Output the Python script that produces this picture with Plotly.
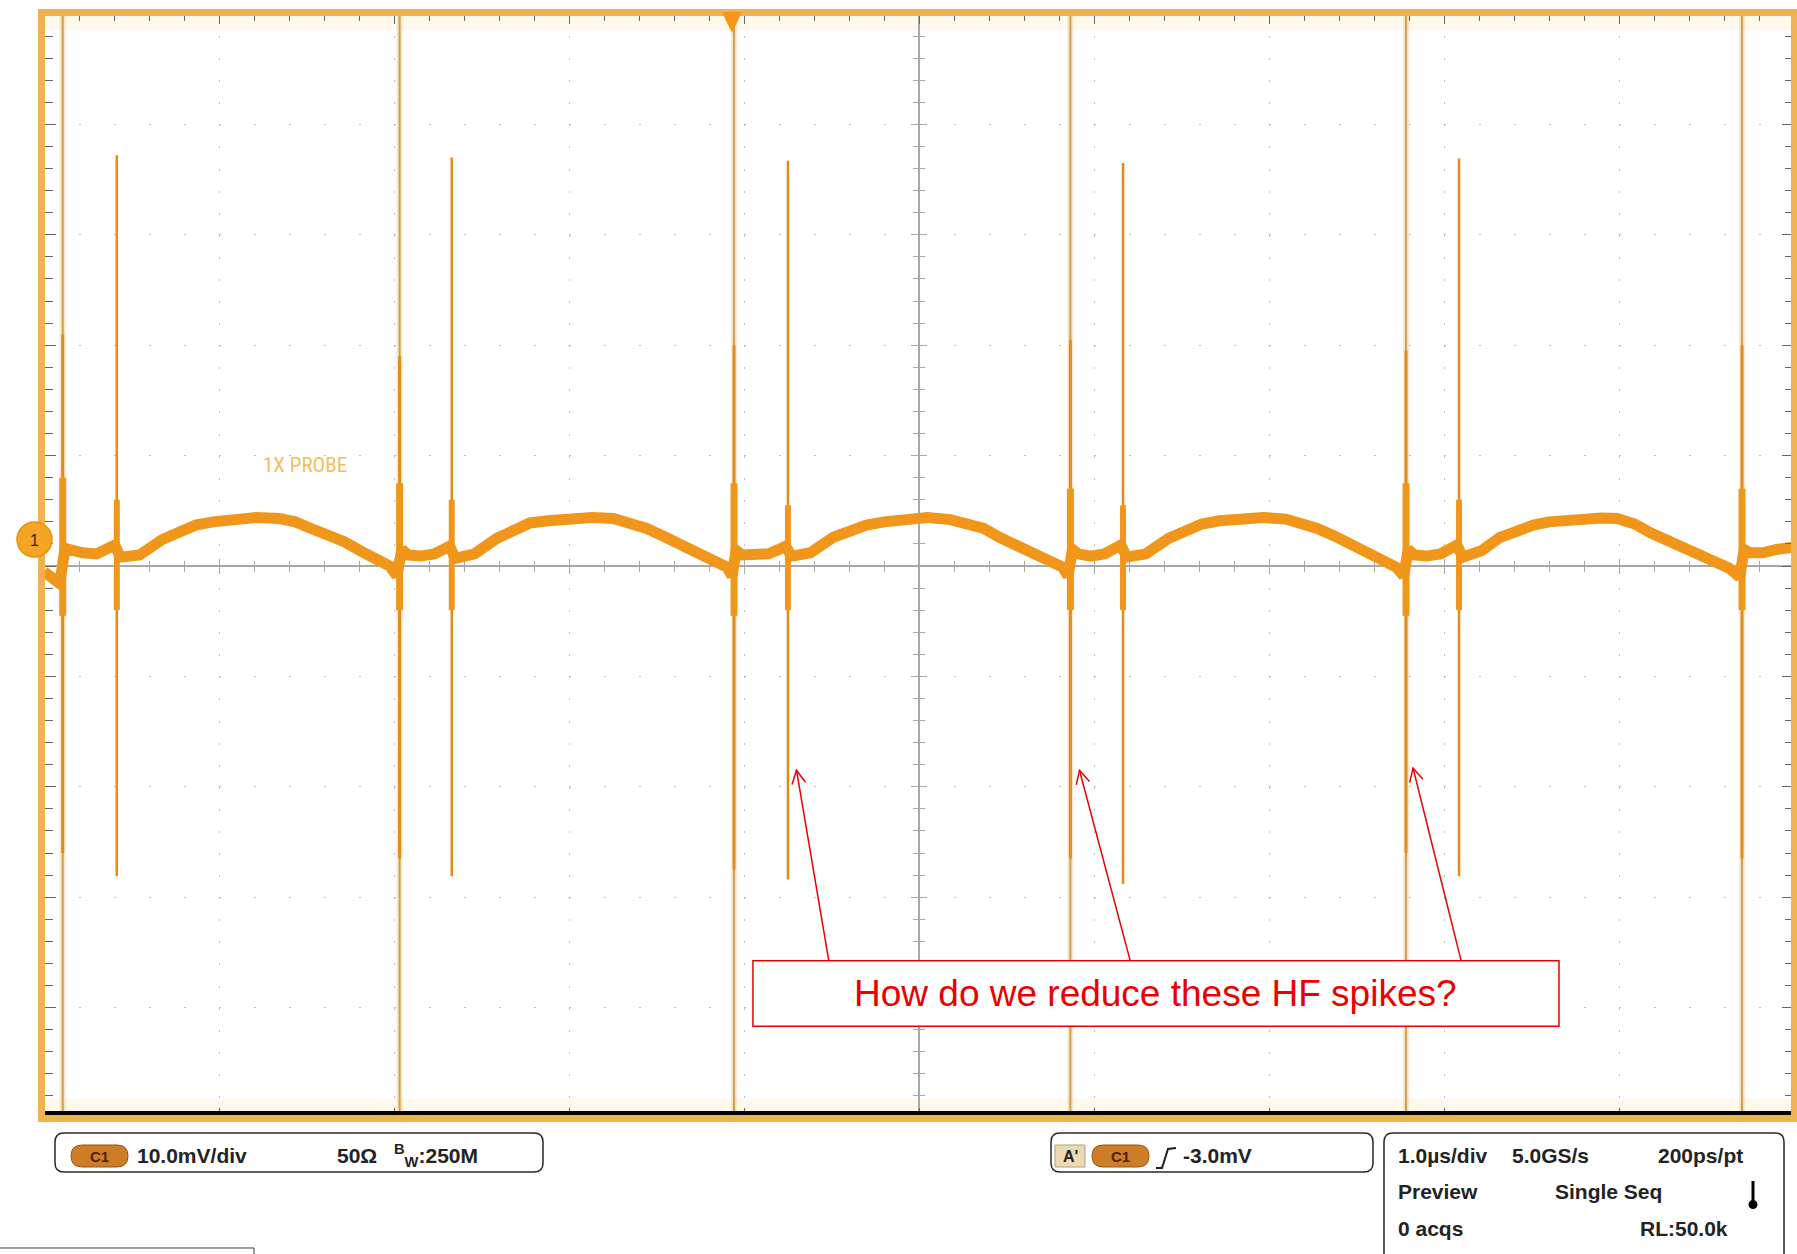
import math
import plotly.graph_objects as go

# ---------------- data ----------------
# time in microseconds (0 = screen centre), amplitude in mV (0 = screen centre)
tall_spike_t = [-4.893, -2.968, -1.057, 0.865, 2.783, 4.703]
tall_spike_hi = [58, 58, 58, 58, 58, 58]          # runs off the top of the screen
tall_spike_lo = [-58, -58, -58, -58, -58, -58]    # runs off the bottom of the screen
tall_core_hi = [21.0, 19.0, 20.0, 20.5, 19.5, 20.0]
tall_core_lo = [-26.0, -26.5, -27.5, -26.5, -26.0, -26.5]
tall_ring_hi = [8.0, 7.5, 7.5, 7.0, 7.5, 7.0]
tall_ring_lo = [-4.5, -4.0, -4.5, -4.0, -4.5, -4.0]

short_spike_t = [-4.584, -2.670, -0.749, 1.166, 3.086]
short_spike_hi = [37.2, 37.0, 36.7, 36.5, 36.9]
short_spike_lo = [-28.1, -28.1, -28.4, -28.8, -28.1]
short_ring_hi = [6.0, 6.0, 5.5, 5.5, 6.0]
short_ring_lo = [-4.0, -4.0, -4.0, -4.0, -4.0]

ripple_t = [
    -5.000, -4.950, -4.910,
    -4.880, -4.840, -4.780, -4.700, -4.630, -4.595,
    -4.564, -4.454, -4.324, -4.224, -4.134, -4.034, -3.884, -3.784, -3.654, -3.564,
    -3.474, -3.374, -3.284, -3.184, -3.094, -3.024, -2.984,
    -2.955, -2.920, -2.850, -2.770, -2.710, -2.682,
    -2.650, -2.540, -2.413, -2.310, -2.223, -2.120, -1.970, -1.870, -1.747, -1.650,
    -1.556, -1.460, -1.366, -1.270, -1.177, -1.099, -1.068,
    -1.045, -1.010, -0.940, -0.860, -0.800, -0.762,
    -0.729, -0.620, -0.490, -0.390, -0.300, -0.200, -0.050, 0.050, 0.180, 0.270,
    0.370, 0.460, 0.550, 0.650, 0.740, 0.820, 0.852,
    0.877, 0.910, 0.980, 1.060, 1.120, 1.154,
    1.186, 1.296, 1.426, 1.526, 1.616, 1.716, 1.866, 1.966, 2.096, 2.186,
    2.276, 2.376, 2.466, 2.566, 2.656, 2.726, 2.770,
    2.795, 2.830, 2.900, 2.980, 3.040, 3.074,
    3.106, 3.216, 3.320, 3.420, 3.510, 3.600, 3.700, 3.800, 3.900, 3.990,
    4.090, 4.180, 4.280, 4.370, 4.470, 4.560, 4.630, 4.690,
    4.715, 4.750, 4.820, 4.900, 4.960, 5.000,
]
ripple_mv = [
    -0.5, -1.0, -1.6,
    1.6, 1.4, 1.2, 1.1, 1.5, 1.9,
    0.8, 1.0, 2.4, 3.1, 3.7, 4.0, 4.35, 4.4, 4.3, 4.0,
    3.4, 2.8, 2.2, 1.3, 0.6, 0.0, -0.9,
    1.5, 1.0, 0.9, 1.1, 1.4, 1.8,
    0.7, 1.1, 2.5, 3.2, 3.9, 4.1, 4.4, 4.4, 4.3, 3.9,
    3.4, 2.7, 1.9, 1.1, 0.5, -0.1, -0.9,
    1.4, 1.0, 1.0, 1.1, 1.5, 1.8,
    0.9, 1.2, 2.6, 3.3, 3.7, 4.0, 4.35, 4.4, 4.2, 3.9,
    3.4, 2.6, 1.9, 1.1, 0.5, -0.1, -0.9,
    1.5, 1.1, 0.9, 1.1, 1.5, 1.9,
    0.8, 1.1, 2.5, 3.2, 3.8, 4.1, 4.4, 4.4, 4.25, 3.9,
    3.4, 2.7, 2.0, 1.1, 0.5, -0.1, -0.9,
    1.5, 1.0, 0.9, 1.1, 1.5, 1.9,
    0.8, 1.4, 2.6, 3.3, 3.7, 4.0, 4.2, 4.35, 4.35, 4.3,
    3.8, 3.0, 2.3, 1.7, 1.0, 0.5, -0.2, -1.0,
    1.5, 1.2, 1.2, 1.5, 1.6, 1.7,
]

trigger_t = -1.069          # trigger position marker at top
ground_mv = 2.4             # channel-1 ground marker level

note_text = "How do we reduce these HF spikes?"
note_box_t = [-0.949, 3.657]
note_box_mv = [-41.7, -35.75]
note_center = (1.351, -38.7)
arrow_head_t = [-0.700, 0.917, 2.823]
arrow_head_mv = [-18.5, -18.5, -18.3]
arrow_tail_t = [-0.516, 1.206, 3.097]
arrow_tail_mv = [-35.7, -35.7, -35.7]

# ---------------- page geometry ----------------
W, H = 1797, 1254
L, R, T, B = 44, 3, 14, 136
PW, PH = W - L - R, H - T - B
xr, yr = [-5, 5], [-50, 50]
SX = PW / (xr[1] - xr[0])   # px per microsecond
SY = PH / (yr[1] - yr[0])   # px per mV


def PX(x):
    return (x - L) / PW


def PY(y):
    return (T + PH - y) / PH


TRACE = "#F0961A"
SPIKE = "rgb(226,140,28)"
FRAME = "rgb(240,178,80)"
GRID = "rgba(140,140,140,0.55)"
EDGE_TICK = "rgb(100,100,110)"
CENTER = "rgb(168,168,168)"
TEXT = "rgb(35,35,35)"
RED = "rgb(235,0,0)"
FONT = "Liberation Sans, Arial, sans-serif"


def segments(ts, his, los):
    xs, ys = [], []
    for t, a, b in zip(ts, his, los):
        xs += [t, t, None]
        ys += [a, b, None]
    return xs, ys


fig = go.Figure()

# tall (clipped) spikes: pale halo + thin core
sx, sy = segments(tall_spike_t, tall_spike_hi, tall_spike_lo)
fig.add_trace(go.Scatter(x=sx, y=sy, mode="lines",
                         line=dict(color="rgba(240,205,140,0.45)", width=6),
                         hoverinfo="skip", showlegend=False))
fig.add_trace(go.Scatter(x=sx, y=sy, mode="lines",
                         line=dict(color="rgb(205,160,80)", width=2),
                         hoverinfo="skip", showlegend=False))

# ripple band
fig.add_trace(go.Scatter(x=ripple_t, y=ripple_mv, mode="lines",
                         line=dict(color=TRACE, width=11),
                         hoverinfo="skip", showlegend=False))

# tall spike cores and ringing
cx, cy = segments(tall_spike_t, tall_core_hi, tall_core_lo)
fig.add_trace(go.Scatter(x=cx, y=cy, mode="lines",
                         line=dict(color=SPIKE, width=3),
                         hoverinfo="skip", showlegend=False))
rx, ry = segments(tall_spike_t, tall_ring_hi, tall_ring_lo)
fig.add_trace(go.Scatter(x=rx, y=ry, mode="lines",
                         line=dict(color=TRACE, width=7),
                         hoverinfo="skip", showlegend=False))

# short spikes
qx, qy = segments(short_spike_t, short_spike_hi, short_spike_lo)
fig.add_trace(go.Scatter(x=qx, y=qy, mode="lines",
                         line=dict(color=SPIKE, width=2.5),
                         hoverinfo="skip", showlegend=False))
kx, ky = segments(short_spike_t, short_ring_hi, short_ring_lo)
fig.add_trace(go.Scatter(x=kx, y=ky, mode="lines",
                         line=dict(color=TRACE, width=6),
                         hoverinfo="skip", showlegend=False))

# dummy traces so the overlay (centre graticule) axes are drawn
for xa, ya in (("x2", "y2"), ("x3", "y3")):
    fig.add_trace(go.Scatter(x=[-5], y=[0], xaxis=xa, yaxis=ya, mode="markers",
                             marker=dict(opacity=0), hoverinfo="skip",
                             showlegend=False))

edge_x = dict(range=xr, showgrid=True, gridcolor=GRID, gridwidth=1,
              griddash="2px,20.08px", dtick=1, tick0=0, ticks="inside",
              ticklen=10, tickwidth=1, tickcolor=EDGE_TICK, mirror="allticks",
              showline=False, zeroline=False, showticklabels=False,
              fixedrange=True,
              minor=dict(dtick=0.2, tick0=0, ticks="inside", ticklen=7,
                         tickwidth=1, tickcolor=EDGE_TICK, showgrid=False))
edge_y = dict(range=yr, showgrid=True, gridcolor=GRID, gridwidth=1,
              griddash="2px,33px", dtick=10, tick0=0, ticks="inside",
              ticklen=12, tickwidth=1, tickcolor=EDGE_TICK, mirror="allticks",
              showline=False, zeroline=False, showticklabels=False,
              fixedrange=True,
              minor=dict(dtick=2, tick0=0, ticks="inside", ticklen=9,
                         tickwidth=1, tickcolor=EDGE_TICK, showgrid=False))


def center_axis(base, ticks, line):
    return dict(overlaying=base, anchor="free", position=0.5, range=xr if base == "x" else yr,
                showgrid=False, zeroline=False, showticklabels=False,
                showline=line, linecolor=CENTER, linewidth=1.5,
                dtick=1 if base == "x" else 10, tick0=0, ticks=ticks, ticklen=7,
                tickwidth=1.2, tickcolor=CENTER, layer="below traces", fixedrange=True,
                minor=dict(dtick=0.2 if base == "x" else 2, tick0=0, ticks=ticks,
                           ticklen=5, tickwidth=1, tickcolor=CENTER, showgrid=False))


shapes = []
# pale inner strips along top and bottom
shapes.append(dict(type="rect", xref="paper", yref="paper", x0=0, x1=1,
                   y0=PY(30), y1=1, fillcolor="rgba(255,247,228,0.7)",
                   line=dict(width=0), layer="below"))
shapes.append(dict(type="rect", xref="paper", yref="paper", x0=0, x1=1,
                   y0=PY(1112), y1=PY(1099), fillcolor="rgba(255,247,228,0.7)",
                   line=dict(width=0), layer="below"))
# bottom black bar
shapes.append(dict(type="line", xref="paper", yref="paper", x0=PX(45), x1=PX(1791),
                   y0=PY(1113), y1=PY(1113), line=dict(color="black", width=4),
                   layer="above"))
# orange screen frame
shapes.append(dict(type="rect", xref="paper", yref="paper", x0=PX(41.5), x1=PX(1794.5),
                   y0=PY(1118.5), y1=PY(12.5), line=dict(color=FRAME, width=7),
                   fillcolor="rgba(0,0,0,0)", layer="above"))
# trigger position marker
shapes.append(dict(type="path", xref="x", yref="paper", xsizemode="pixel",
                   xanchor=trigger_t,
                   path=f"M-10,{PY(12):.5f} L10,{PY(12):.5f} L0,{PY(33):.5f} Z",
                   fillcolor="rgb(245,150,25)", line=dict(width=0), layer="above"))
# channel 1 ground marker
shapes.append(dict(type="circle", xref="paper", yref="y", xsizemode="pixel",
                   ysizemode="pixel", xanchor=0, yanchor=ground_mv,
                   x0=-27, x1=8, y0=-17.5, y1=17.5,
                   fillcolor="rgb(245,165,35)", line=dict(color="rgb(232,145,25)", width=1.5),
                   layer="above"))

# note box
shapes.append(dict(type="rect", xref="x", yref="y", x0=note_box_t[0], x1=note_box_t[1],
                   y0=note_box_mv[0], y1=note_box_mv[1], fillcolor="white",
                   line=dict(color=RED, width=1.5), layer="above"))

# note arrows: shaft + open V head
for hx, hy, tx, ty in zip(arrow_head_t, arrow_head_mv, arrow_tail_t, arrow_tail_mv):
    shapes.append(dict(type="line", xref="x", yref="y", x0=tx, y0=ty, x1=hx, y1=hy,
                       line=dict(color=RED, width=1.5), layer="above"))
    ux, uy = (tx - hx) * SX, (ty - hy) * SY
    n = math.hypot(ux, uy)
    ux, uy = ux / n, uy / n
    arms = []
    for ang in (math.radians(27), math.radians(-27)):
        ca, sa = math.cos(ang), math.sin(ang)
        arms.append((15 * (ux * ca - uy * sa), 15 * (ux * sa + uy * ca)))
    shapes.append(dict(type="path", xref="x", yref="y", xsizemode="pixel",
                       ysizemode="pixel", xanchor=hx, yanchor=hy,
                       path=(f"M{arms[0][0]:.2f},{arms[0][1]:.2f} L0,0 "
                             f"L{arms[1][0]:.2f},{arms[1][1]:.2f}"),
                       line=dict(color=RED, width=1.5), layer="above"))


def P(x, y):
    return f"{PX(x):.5f},{PY(y):.5f}"


def rrect(x0, y0, x1, y1, r):
    return (f"M{P(x0 + r, y0)} L{P(x1 - r, y0)} Q{P(x1, y0)} {P(x1, y0 + r)} "
            f"L{P(x1, y1 - r)} Q{P(x1, y1)} {P(x1 - r, y1)} L{P(x0 + r, y1)} "
            f"Q{P(x0, y1)} {P(x0, y1 - r)} L{P(x0, y0 + r)} Q{P(x0, y0)} {P(x0 + r, y0)} Z")


def pill(x0, y0, x1, y1):
    r = (y1 - y0) / 2
    return dict(type="path", xref="paper", yref="paper", path=rrect(x0, y0, x1, y1, r),
                fillcolor="rgb(205,125,40)", line=dict(color="rgb(150,85,20)", width=1),
                layer="above")


box_line = dict(color="rgb(40,40,40)", width=1.5)
shapes.append(dict(type="path", xref="paper", yref="paper",
                   path=rrect(55, 1133, 543, 1172, 9), line=box_line, layer="above"))
shapes.append(dict(type="path", xref="paper", yref="paper",
                   path=rrect(1051, 1133, 1373, 1172, 9), line=box_line, layer="above"))
shapes.append(dict(type="path", xref="paper", yref="paper",
                   path=(f"M{P(1384, 1262)} L{P(1384, 1142)} Q{P(1384, 1133)} {P(1393, 1133)} "
                         f"L{P(1775, 1133)} Q{P(1784, 1133)} {P(1784, 1142)} L{P(1784, 1262)}"),
                   line=box_line, layer="above"))
shapes.append(pill(71, 1145, 128, 1167))
shapes.append(pill(1092, 1145, 1149, 1167))
shapes.append(dict(type="rect", xref="paper", yref="paper", x0=PX(1055), x1=PX(1085),
                   y0=PY(1167), y1=PY(1145), fillcolor="rgb(236,218,180)",
                   line=dict(color="rgb(180,160,120)", width=1), layer="above"))
# trigger slope glyph
shapes.append(dict(type="path", xref="paper", yref="paper",
                   path=f"M{P(1156, 1168)} L{P(1162, 1168)} L{P(1168, 1149)} L{P(1176, 1148)}",
                   line=dict(color="rgb(30,30,30)", width=2), layer="above"))
# thermometer glyph
shapes.append(dict(type="line", xref="paper", yref="paper", x0=PX(1753), x1=PX(1753),
                   y0=PY(1181), y1=PY(1202), line=dict(color="black", width=3), layer="above"))
shapes.append(dict(type="circle", xref="paper", yref="paper", x0=PX(1748.5), x1=PX(1757.5),
                   y0=PY(1209), y1=PY(1200), fillcolor="black", line=dict(width=0),
                   layer="above"))
# small cut-off box at bottom-left
shapes.append(dict(type="path", xref="paper", yref="paper",
                   path=f"M{P(-2, 1248)} L{P(254, 1248)} L{P(254, 1262)}",
                   line=dict(color="rgb(60,60,60)", width=1), layer="above"))

annotations = []


def txt(x, y, s, size=20, anchor="left", color=TEXT, bold=True, family=FONT):
    annotations.append(dict(xref="paper", yref="paper", x=PX(x), y=PY(y),
                            text=f"<b>{s}</b>" if bold else s, showarrow=False,
                            xanchor=anchor, yanchor="middle",
                            font=dict(family=family, size=size, color=color)))


txt(99.5, 1156, "C1", size=15, anchor="center", color="rgb(80,35,0)")
txt(135, 1155, "10.0mV/div", size=21)
txt(335, 1155, "50Ω", size=21)
txt(392, 1155, "<sup>B</sup><sub>W</sub>:250M", size=21)
txt(1070, 1156, "A'", size=16, anchor="center")
txt(1120.5, 1156, "C1", size=15, anchor="center", color="rgb(80,35,0)")
txt(1181, 1155, "-3.0mV", size=21)
txt(1396, 1155, "1.0µs/div", size=21)
txt(1510, 1155, "5.0GS/s", size=21)
txt(1745, 1155, "200ps/pt", anchor="right", size=21)
txt(1396, 1191, "Preview", size=21)
txt(1553, 1191, "Single Seq", size=21)
txt(1396, 1228, "0 acqs", size=21)
txt(1730, 1228, "RL:50.0k", anchor="right", size=21)
txt(261, 465, "1X PROBE", size=21, color="rgb(242,190,95)", bold=False,
    family="Liberation Sans Narrow, Arial Narrow, Roboto Condensed, sans-serif")
txt(34, 540, "1", size=16, anchor="center", color="rgb(60,35,5)", bold=False)

annotations.append(dict(xref="x", yref="y", x=note_center[0], y=note_center[1],
                        text=note_text, showarrow=False, xanchor="center", yanchor="middle",
                        font=dict(family=FONT, size=37, color=RED)))

fig.update_layout(
    width=W, height=H,
    margin=dict(l=L, r=R, t=T, b=B, pad=0),
    paper_bgcolor="white", plot_bgcolor="white",
    showlegend=False,
    xaxis=edge_x, yaxis=edge_y,
    xaxis2=center_axis("x", "outside", True),
    xaxis3=center_axis("x", "inside", False),
    yaxis2=center_axis("y", "outside", True),
    yaxis3=center_axis("y", "inside", False),
    shapes=shapes, annotations=annotations,
)

fig.write_html("out.html")
